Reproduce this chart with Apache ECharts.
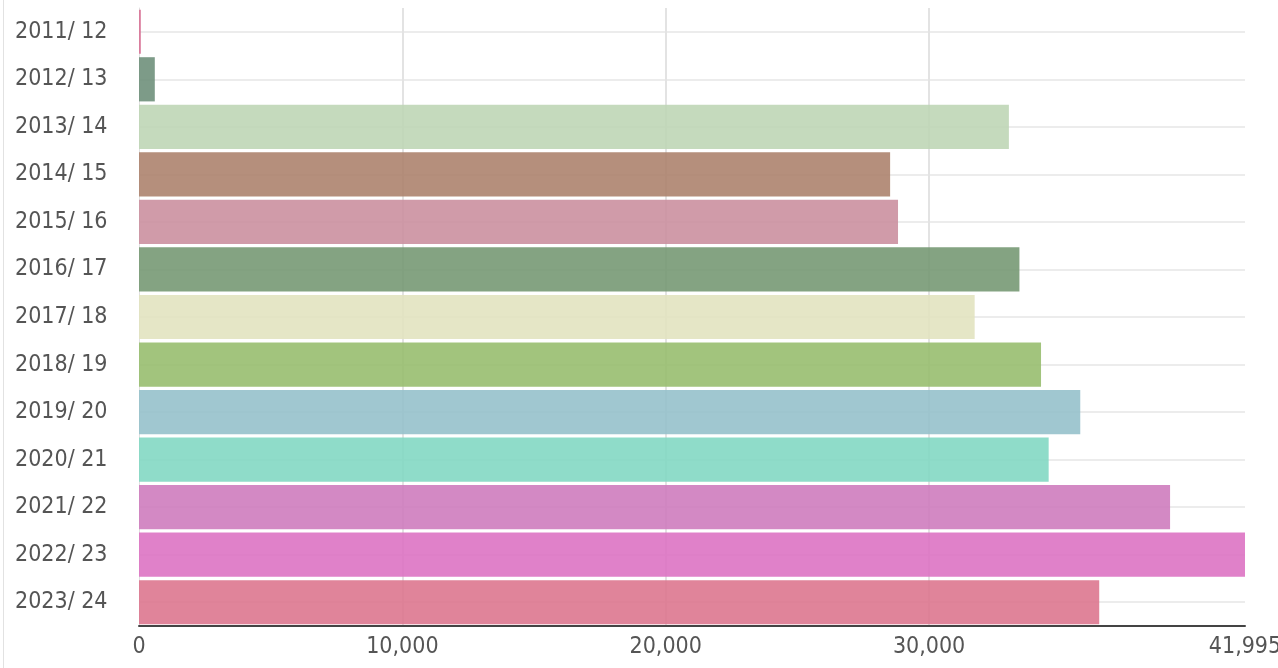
<!DOCTYPE html>
<html>
<head>
<meta charset="utf-8">
<script src="https://cdn.jsdelivr.net/npm/echarts@6/dist/echarts.min.js"></script>
<style>
  html, body { margin: 0; padding: 0; background: #fff; }
  #chart { position: absolute; left: 0; top: 0; width: 1278px; height: 668px; }
  #edge { position: absolute; left: 3px; top: 0; width: 1px; height: 668px; background: #e2e2e2; }
</style>
</head>
<body>
<div id="edge"></div>
<div id="chart"></div>
<script>
// seasons (top to bottom)
const seasons = [
  "2011/ 12", "2012/ 13", "2013/ 14", "2014/ 15", "2015/ 16", "2016/ 17", "2017/ 18",
  "2018/ 19", "2019/ 20", "2020/ 21", "2021/ 22", "2022/ 23", "2023/ 24",
];

// values
const values = [
  70, 600, 33030, 28520, 28820, 33430, 31730,
  34250, 35740, 34540, 39150, 41995, 36460,
];

// x axis tick labels
const xTicks = [0, 10000, 20000, 30000, 41995];

// bar colours as they look on white
const barColors = [
  "#dc7fa0", "#7d9b87", "#c5dabd", "#b58f7c", "#d09ba9", "#84a382", "#e5e6c6",
  "#a2c47d", "#a0c7d0", "#8fdcc8", "#d389c4", "#e080c8", "#e0849a",
];

const ALPHA = 0.88;
// turn an on-white colour into a translucent one that lands on the same colour
function translucent(hex) {
  const n = parseInt(hex.slice(1), 16);
  const ch = [(n >> 16) & 255, (n >> 8) & 255, n & 255].map((c) =>
    Math.max(0, Math.min(255, Math.round((c - (1 - ALPHA) * 255) / ALPHA)))
  );
  return "rgba(" + ch.join(",") + "," + ALPHA + ")";
}

const labelFont = "'DejaVu Sans Condensed', 'Liberation Sans Narrow', sans-serif";

const chart = echarts.init(document.getElementById("chart"));

const option = {
  animation: false,
  grid: {
    left: 139,
    right: 33,
    top: 8,
    bottom: 42,
    containLabel: false,
    outerBoundsMode: "none",
  },
  xAxis: {
    type: "value",
    min: 0,
    max: 41995,
    axisLine: {
      show: true,
      lineStyle: { color: "#444", width: 2 },
    },
    axisTick: { show: false, customValues: xTicks },
    axisLabel: {
      customValues: xTicks,
      color: "#555",
      fontFamily: labelFont,
      fontSize: 23,
      margin: 10,
      formatter: (v) => v.toLocaleString("en-US"),
    },
    splitLine: {
      show: true,
      showMinLine: false,
      showMaxLine: false,
      lineStyle: { color: "#e3e3e3", width: 2 },
    },
  },
  yAxis: {
    type: "category",
    inverse: true,
    data: seasons,
    axisLine: {
      show: true,
      lineStyle: { color: "#e0e0e0", width: 1 },
    },
    axisTick: { show: false },
    axisLabel: {
      color: "#555",
      fontFamily: labelFont,
      fontSize: 23,
      align: "left",
      margin: 124,
      padding: [7, 0, 0, 0],
    },
    splitLine: {
      show: true,
      alignWithLabel: true,
      lineStyle: { color: "#ececec", width: 2 },
    },
  },
  series: [
    {
      type: "bar",
      barCategoryGap: "7%",
      data: values.map((v, i) => ({
        value: v,
        itemStyle: { color: translucent(barColors[i]) },
      })),
    },
  ],
};

chart.setOption(option);
</script>
</body>
</html>
